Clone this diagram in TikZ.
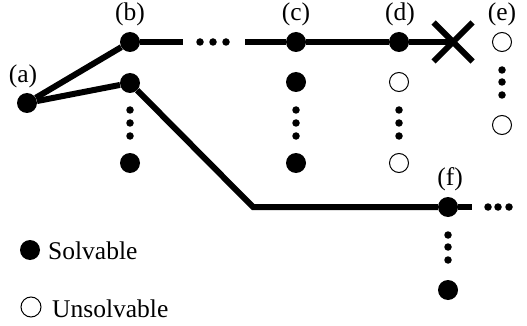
\documentclass[tikz,border=0pt]{standalone}
\usepackage{fontspec}
\setmainfont{Liberation Serif}
\usetikzlibrary{shapes.misc}
\begin{document}
\begin{tikzpicture}[x=1pt,y=-1pt,
  fullnode/.style={circle,fill=black,minimum size=20pt,inner sep=0pt},
  emptynode/.style={circle,draw=black,line width=1pt,fill=white,minimum size=19pt,inner sep=0pt},
  smalldot/.style={circle,fill=black,minimum size=7.5pt,inner sep=0pt},
  edge/.style={line width=6pt},
  lab/.style={font=\fontsize{25.5}{30}\selectfont,inner sep=0pt,anchor=base}]
\useasboundingbox (0,0) rectangle (527,326);
% main nodes
\node[fullnode] (a) at (27,103) {};
\node[fullnode] (b) at (130,42) {};
\node[fullnode] (b2) at (130,83) {};
\node[fullnode] (b3) at (130,163) {};
\node[fullnode] (c) at (296,42) {};
\node[fullnode] (c2) at (296,82) {};
\node[fullnode] (c3) at (296,163) {};
\node[fullnode] (d) at (399,42) {};
\node[emptynode] (d2) at (399,82) {};
\node[emptynode] (d3) at (399,163) {};
\node[emptynode] (e) at (502,42) {};
\node[emptynode] (e2) at (502,125) {};
\node[fullnode] (f) at (448,207) {};
\node[fullnode] (f2) at (448,290) {};
\node[draw,cross out,minimum size=33pt,line width=6pt,inner sep=0pt] (x) at (453,42) {};
% labels
\node[lab] (la) at (23,83) {(a)};
\node[lab] (lb) at (130,21) {(b)};
\node[lab] (lc) at (296,21) {(c)};
\node[lab] (ld) at (400,21) {(d)};
\node[lab] (le) at (502,21) {(e)};
\node[lab] (lf) at (450,185) {(f)};
% coordinates
\coordinate (bend) at (253,207);
\coordinate (bend1) at (183,42);
\coordinate (bend2) at (245,42);
\coordinate (fend) at (472,207);
% edges
\draw[edge] (a) -- (b);
\draw[edge] (a) -- (b2);
\draw[edge] (b) -- (bend1);
\draw[edge] (bend2) -- (c);
\draw[edge] (c) -- (d);
\draw[edge] (d) -- (x.center);
\draw[edge] (b2) -- (bend) -- (f);
\draw[edge] (f) -- (fend);
% horizontal ellipses
\foreach \xx [count=\i] in {200,213,226} \node[smalldot] (h\i) at (\xx,42) {};
\foreach \xx [count=\i] in {488,498,509} \node[smalldot] (k\i) at (\xx,207) {};
% vertical ellipses
\foreach \cx/\nm in {130/vb,296/vc,399/vd}
  \foreach \yy [count=\i] in {110,123,136} \node[smalldot] (\nm\i) at (\cx,\yy) {};
\foreach \yy [count=\i] in {70,82,95} \node[smalldot] (ve\i) at (502,\yy) {};
\foreach \yy [count=\i] in {235,247,260} \node[smalldot] (vf\i) at (448,\yy) {};
% legend
\node[fullnode,minimum size=20pt] (ls) at (30,250) {};
\node[lab,anchor=base west] (lst) at (48,259) {Solvable};
\node[emptynode,minimum size=20pt] (lu) at (31,307) {};
\node[lab,anchor=base west] (lut) at (52,317) {Unsolvable};
\end{tikzpicture}
\end{document}
